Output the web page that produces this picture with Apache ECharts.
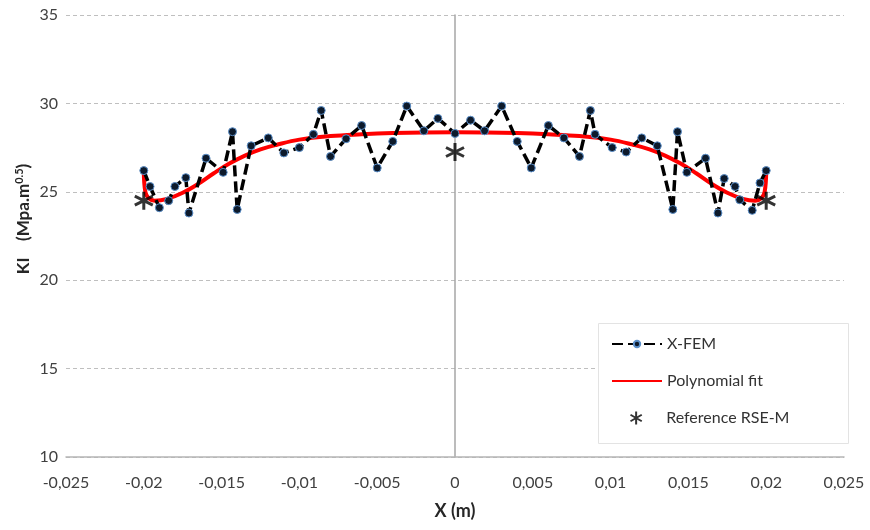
<!DOCTYPE html>
<html>
<head>
<meta charset="utf-8">
<script src="https://cdn.jsdelivr.net/npm/echarts@6/dist/echarts.min.js"></script>
<style>html,body{margin:0;padding:0;background:#fff}#c{width:870px;height:530px}</style>
</head>
<body>
<div id="c"></div>
<script>
// X-FEM results (x in m, KI in MPa.m^0.5)
var xfemX = [-0.0200,-0.0196,-0.0190,-0.0184,-0.0180,-0.0173,-0.0171,-0.0160,-0.0149,-0.0143,-0.0140,-0.0131,-0.0120,-0.0110,-0.0100,-0.0091,-0.0086,-0.0080,-0.0070,-0.0060,-0.0050,-0.0040,-0.0031,-0.0020,-0.0011,0.0000,
             0.0010,0.0019,0.0030,0.0040,0.0049,0.0060,0.0070,0.0080,0.0087,0.0090,0.0101,0.0110,0.0120,0.0130,0.0140,0.0143,0.0149,0.0161,0.0169,0.0173,0.0180,0.0183,0.0191,0.0196,0.0200];
var xfemY = [26.2,25.3,24.1,24.5,25.3,25.8,23.8,26.9,26.1,28.4,24.0,27.6,28.05,27.2,27.5,28.25,29.6,27.0,28.0,28.75,26.35,27.85,29.85,28.45,29.15,28.3,
             29.05,28.45,29.85,27.85,26.35,28.75,28.05,27.0,29.6,28.25,27.5,27.25,28.05,27.6,24.0,28.4,26.1,26.9,23.8,25.75,25.3,24.55,23.95,25.5,26.2];
// Polynomial fit
var fitX = [-0.0200,-0.0199,-0.0197,-0.0193,-0.0185,-0.0175,-0.0165,-0.0155,-0.0145,-0.0135,-0.0125,-0.0115,-0.0100,-0.0080,-0.0060,-0.0040,-0.0020,0.0000,
            0.0020,0.0040,0.0060,0.0080,0.0100,0.0115,0.0125,0.0135,0.0145,0.0155,0.0165,0.0175,0.0185,0.0193,0.0197,0.0199,0.0200];
var fitY = [26.1,25.0,24.65,24.5,24.6,24.95,25.45,26.05,26.6,27.05,27.4,27.65,27.95,28.15,28.25,28.32,28.36,28.37,
            28.36,28.32,28.25,28.15,27.95,27.65,27.4,27.05,26.6,26.05,25.45,24.95,24.6,24.5,24.65,25.0,26.1];
// Reference RSE-M
var refX = [-0.02, 0.0, 0.02];
var refY = [24.5, 27.25, 24.5];
// Axis ticks
var xMin = -0.025, xMax = 0.025, xStep = 0.005;
var yMin = 10, yMax = 35, yStep = 5;

function pairs(xs, ys){ return xs.map(function(x,i){ return [x, ys[i]]; }); }
var FONT = 'Lato, "Open Sans", sans-serif';
var star = 'path://M0,-10L0,10M-8.66,-5L8.66,5M-8.66,5L8.66,-5';
var legendText = {fontSize:16, color:'#333', fontFamily:FONT};

var chart = echarts.init(document.getElementById('c'), null, {renderer:'canvas'});
chart.setOption({
  animation:false,
  backgroundColor:'#fff',
  grid:{left:66, right:26, top:15, bottom:73},
  xAxis:{
    type:'value', min:xMin, max:xMax, interval:xStep,
    axisLine:{onZero:false, lineStyle:{color:'#b5b5b5', width:1.5}},
    axisTick:{show:false},
    splitLine:{show:false},
    axisLabel:{margin:18, fontSize:16, color:'#404040', fontFamily:FONT,
      formatter:function(v){ var s = String(+v.toFixed(3)); return s.replace('.', ','); }},
    name:'X (m)', nameLocation:'middle', nameGap:45,
    nameTextStyle:{fontSize:18, fontWeight:'bold', color:'#262626', fontFamily:FONT}
  },
  yAxis:{
    type:'value', min:yMin, max:yMax, interval:yStep,
    axisLine:{show:true, onZero:true, lineStyle:{color:'#a6a6a6', width:1.5}},
    axisTick:{show:false},
    splitLine:{show:true, lineStyle:{color:'#bfbfbf', type:[4,3], width:1}},
    axisLabel:{margin:8, fontSize:16, color:'#404040', fontFamily:FONT}
  },
  graphic:[{
    type:'text', x:24, y:219, rotation:Math.PI/2,
    style:{
      text:'{b|KI    (Mpa.m}{s|0.5}{b|)}',
      textAlign:'center', textVerticalAlign:'middle',
      rich:{
        b:{fontSize:17, fontWeight:'bold', fill:'#262626', fontFamily:FONT},
        s:{fontSize:11, fontWeight:'bold', fill:'#262626', fontFamily:FONT, padding:[0,0,10,0]}
      }
    }
  },{
    type:'rect', z:1, shape:{x:598.5, y:323.5, width:250, height:120},
    style:{fill:'#fff', stroke:'#e3e3e3', lineWidth:1}
  }],
  legend:[{
    orient:'vertical', left:611, top:336, padding:0, z:5,
    data:['X-FEM', {name:'Polynomial fit', itemStyle:{opacity:0}}],
    itemWidth:50, itemHeight:8, itemGap:21,
    textStyle:legendText
  },{
    orient:'vertical', left:628, top:409, padding:0, z:5,
    data:['Reference RSE-M'],
    itemWidth:50, itemHeight:13,
    textStyle:legendText
  }],
  series:[
    {
      name:'Polynomial fit', type:'line', smooth:0.4, symbol:'none', z:2,
      data:pairs(fitX, fitY),
      lineStyle:{color:'#ff0000', width:4}, itemStyle:{color:'#ff0000'}
    },
    {
      name:'X-FEM', type:'line', z:3,
      data:pairs(xfemX, xfemY),
      symbol:'circle', symbolSize:8,
      lineStyle:{color:'#000', width:3.5, type:[11,5]},
      itemStyle:{color:'#0d1a2b', borderColor:'#5b8fc9', borderWidth:1}
    },
    {
      name:'Reference RSE-M', type:'scatter', z:4,
      data:pairs(refX, refY),
      symbol:star, symbolSize:18,
      itemStyle:{color:'none', borderColor:'#000', borderWidth:3}
    }
  ]
});
</script>
</body>
</html>
